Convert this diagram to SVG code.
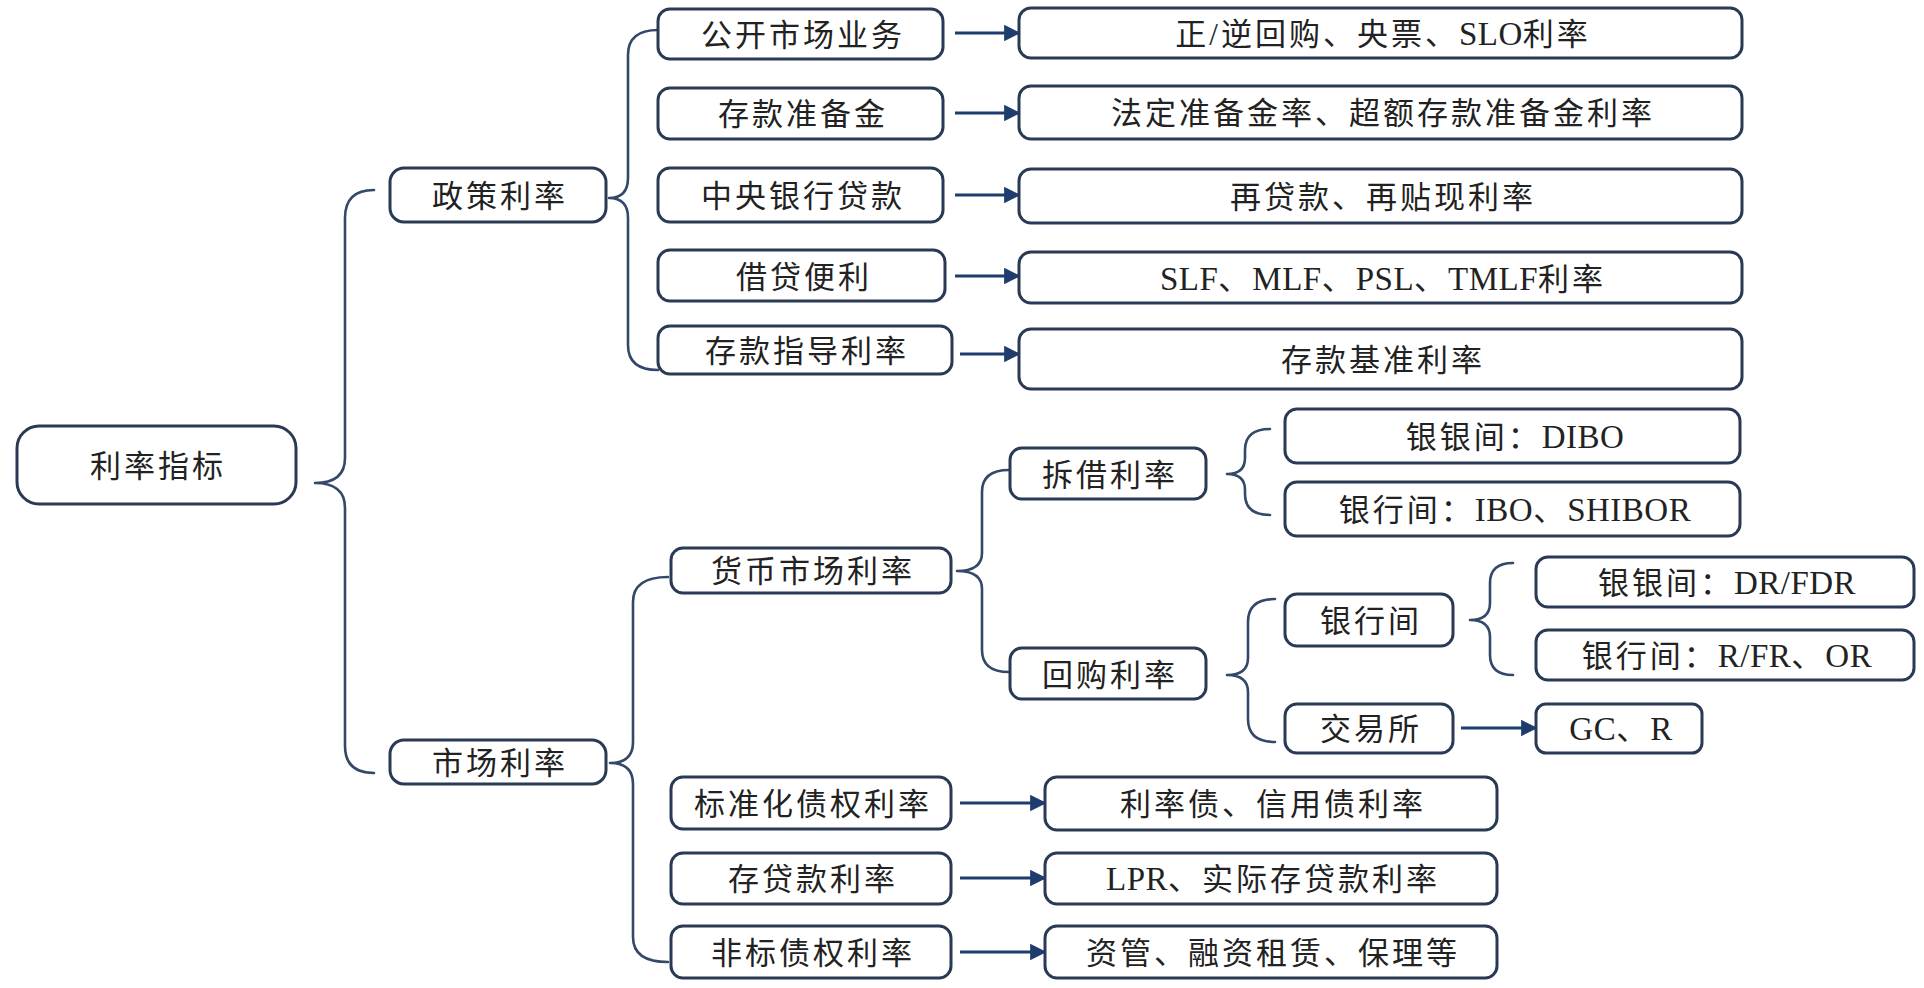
<svg xmlns="http://www.w3.org/2000/svg" width="1924" height="988" viewBox="0 0 1924 988">
  <defs>
    <marker id="arrow" viewBox="0 0 10 10" refX="9" refY="5" markerWidth="5.5" markerHeight="5.5" markerUnits="strokeWidth" orient="auto">
      <path d="M0,0 L10,5 L0,10 Z" fill="#1f3c6e"/>
    </marker>
    <style>
      .box { fill: #ffffff; stroke: #2a3a55; stroke-width: 3; }
      .lbl { font-family: "Liberation Serif", "Noto Sans CJK SC", serif; font-size: 31px; letter-spacing: 3px; fill: #222222; text-anchor: middle; dominant-baseline: central; }
      .lat { font-size: 33px; letter-spacing: 0.5px; }
      .brace { fill: none; stroke: #34486a; stroke-width: 2.6; stroke-linecap: round; stroke-linejoin: round; }
      .arr { fill: none; stroke: #1f3c6e; stroke-width: 3; marker-end: url(#arrow); }
    </style>
  </defs>
  <rect width="1924" height="988" fill="#ffffff"/>

  <!-- braces and arrows -->
  <g id="connectors">
    <!-- root brace -->
    <path class="brace" d="M374,190 Q345,190 345,218 L345,458 Q345,483 315,483 Q345,483 345,508 L345,746 Q345,773 374,773"/>
    <!-- policy-rate brace -->
    <path class="brace" d="M658,30 Q628,30 628,55 L628,178 Q628,198 609,198 Q628,198 628,218 L628,345 Q628,370 658,370"/>
    <!-- market-rate brace -->
    <path class="brace" d="M668,577 Q633,577 633,602 L633,742 Q633,763 610,763 Q633,763 633,784 L633,937 Q633,962 668,962"/>
    <!-- money-market brace -->
    <path class="brace" d="M1009,470 Q982,470 982,492 L982,553 Q982,571 957,571 Q982,571 982,589 L982,650 Q982,672 1009,672"/>
    <!-- interbank lending brace -->
    <path class="brace" d="M1270,429 Q1245,429 1245,450 L1245,458 Q1245,474 1227,474 Q1245,474 1245,490 L1245,494 Q1245,515 1270,515"/>
    <!-- repo brace -->
    <path class="brace" d="M1275,599 Q1248,599 1248,622 L1248,658 Q1248,675 1227,675 Q1248,675 1248,692 L1248,719 Q1248,742 1275,742"/>
    <!-- bank-to-bank repo brace -->
    <path class="brace" d="M1513,563 Q1490,563 1490,583 L1490,603 Q1490,620 1470,620 Q1490,620 1490,637 L1490,655 Q1490,675 1513,675"/>

    <line class="arr" x1="955" y1="33" x2="1019" y2="33"/>
    <line class="arr" x1="955" y1="113" x2="1019" y2="113"/>
    <line class="arr" x1="955" y1="195" x2="1019" y2="195"/>
    <line class="arr" x1="955" y1="276" x2="1019" y2="276"/>
    <line class="arr" x1="960" y1="354" x2="1019" y2="354"/>
    <line class="arr" x1="960" y1="803" x2="1045" y2="803"/>
    <line class="arr" x1="960" y1="878" x2="1045" y2="878"/>
    <line class="arr" x1="960" y1="952" x2="1045" y2="952"/>
    <line class="arr" x1="1461" y1="728" x2="1536" y2="728"/>
  </g>

  <!-- root -->
  <g id="n-root">
    <rect class="box" x="17" y="426" width="279" height="78" rx="22"/>
    <text class="lbl" x="158" y="466">利率指标</text>
  </g>

  <!-- policy rates -->
  <g id="n-policy">
    <rect class="box" x="390" y="168" width="216" height="54" rx="14"/>
    <text class="lbl" x="500" y="196">政策利率</text>
  </g>
  <g id="n-omo">
    <rect class="box" x="658" y="9" width="285" height="50" rx="12"/>
    <text class="lbl" x="803" y="35">公开市场业务</text>
  </g>
  <g id="n-omo-r">
    <rect class="box" x="1019" y="8" width="723" height="50" rx="12"/>
    <text class="lbl" x="1383" y="34">正/逆回购、央票、<tspan class="lat">SLO</tspan>利率</text>
  </g>
  <g id="n-rrr">
    <rect class="box" x="658" y="88" width="285" height="51" rx="12"/>
    <text class="lbl" x="803" y="114">存款准备金</text>
  </g>
  <g id="n-rrr-r">
    <rect class="box" x="1019" y="86" width="723" height="53" rx="12"/>
    <text class="lbl" x="1383" y="113">法定准备金率、超额存款准备金利率</text>
  </g>
  <g id="n-cbl">
    <rect class="box" x="658" y="168" width="285" height="54" rx="12"/>
    <text class="lbl" x="803" y="196">中央银行贷款</text>
  </g>
  <g id="n-cbl-r">
    <rect class="box" x="1019" y="169" width="723" height="54" rx="12"/>
    <text class="lbl" x="1383" y="197">再贷款、再贴现利率</text>
  </g>
  <g id="n-lf">
    <rect class="box" x="658" y="250" width="287" height="51" rx="12"/>
    <text class="lbl" x="804" y="277">借贷便利</text>
  </g>
  <g id="n-lf-r">
    <rect class="box" x="1019" y="252" width="723" height="51" rx="12"/>
    <text class="lbl" x="1383" y="279"><tspan class="lat">SLF</tspan>、<tspan class="lat">MLF</tspan>、<tspan class="lat">PSL</tspan>、<tspan class="lat">TMLF</tspan>利率</text>
  </g>
  <g id="n-dg">
    <rect class="box" x="658" y="326" width="294" height="48" rx="12"/>
    <text class="lbl" x="807" y="351">存款指导利率</text>
  </g>
  <g id="n-dg-r">
    <rect class="box" x="1019" y="329" width="723" height="60" rx="12"/>
    <text class="lbl" x="1383" y="360">存款基准利率</text>
  </g>

  <!-- market rates -->
  <g id="n-market">
    <rect class="box" x="390" y="740" width="216" height="44" rx="14"/>
    <text class="lbl" x="500" y="763">市场利率</text>
  </g>
  <g id="n-mm">
    <rect class="box" x="671" y="548" width="280" height="45" rx="12"/>
    <text class="lbl" x="813" y="571">货币市场利率</text>
  </g>
  <g id="n-ib">
    <rect class="box" x="1010" y="448" width="196" height="51" rx="12"/>
    <text class="lbl" x="1110" y="475">拆借利率</text>
  </g>
  <g id="n-ib-1">
    <rect class="box" x="1285" y="409" width="455" height="54" rx="12"/>
    <text class="lbl" x="1515" y="437">银银间：<tspan class="lat">DIBO</tspan></text>
  </g>
  <g id="n-ib-2">
    <rect class="box" x="1285" y="482" width="455" height="54" rx="12"/>
    <text class="lbl" x="1515" y="510">银行间：<tspan class="lat">IBO</tspan>、<tspan class="lat">SHIBOR</tspan></text>
  </g>
  <g id="n-repo">
    <rect class="box" x="1010" y="648" width="196" height="51" rx="12"/>
    <text class="lbl" x="1110" y="675">回购利率</text>
  </g>
  <g id="n-repo-bank">
    <rect class="box" x="1285" y="594" width="168" height="52" rx="12"/>
    <text class="lbl" x="1371" y="621">银行间</text>
  </g>
  <g id="n-repo-b1">
    <rect class="box" x="1536" y="557" width="378" height="50" rx="12"/>
    <text class="lbl" x="1727" y="583">银银间：<tspan class="lat">DR/FDR</tspan></text>
  </g>
  <g id="n-repo-b2">
    <rect class="box" x="1536" y="630" width="378" height="50" rx="12"/>
    <text class="lbl" x="1727" y="656">银行间：<tspan class="lat">R/FR</tspan>、<tspan class="lat">OR</tspan></text>
  </g>
  <g id="n-repo-ex">
    <rect class="box" x="1285" y="704" width="168" height="49" rx="12"/>
    <text class="lbl" x="1371" y="729">交易所</text>
  </g>
  <g id="n-repo-ex-r">
    <rect class="box" x="1536" y="704" width="166" height="49" rx="10"/>
    <text class="lbl" x="1621" y="729"><tspan class="lat">GC</tspan>、<tspan class="lat">R</tspan></text>
  </g>
  <g id="n-std">
    <rect class="box" x="671" y="777" width="280" height="52" rx="12"/>
    <text class="lbl" x="813" y="804">标准化债权利率</text>
  </g>
  <g id="n-std-r">
    <rect class="box" x="1045" y="777" width="452" height="53" rx="12"/>
    <text class="lbl" x="1273" y="804">利率债、信用债利率</text>
  </g>
  <g id="n-dl">
    <rect class="box" x="671" y="853" width="280" height="51" rx="12"/>
    <text class="lbl" x="813" y="879">存贷款利率</text>
  </g>
  <g id="n-dl-r">
    <rect class="box" x="1045" y="853" width="452" height="51" rx="12"/>
    <text class="lbl" x="1273" y="879"><tspan class="lat">LPR</tspan>、实际存贷款利率</text>
  </g>
  <g id="n-nstd">
    <rect class="box" x="671" y="926" width="280" height="52" rx="12"/>
    <text class="lbl" x="813" y="953">非标债权利率</text>
  </g>
  <g id="n-nstd-r">
    <rect class="box" x="1045" y="926" width="452" height="52" rx="12"/>
    <text class="lbl" x="1273" y="953">资管、融资租赁、保理等</text>
  </g>
</svg>
